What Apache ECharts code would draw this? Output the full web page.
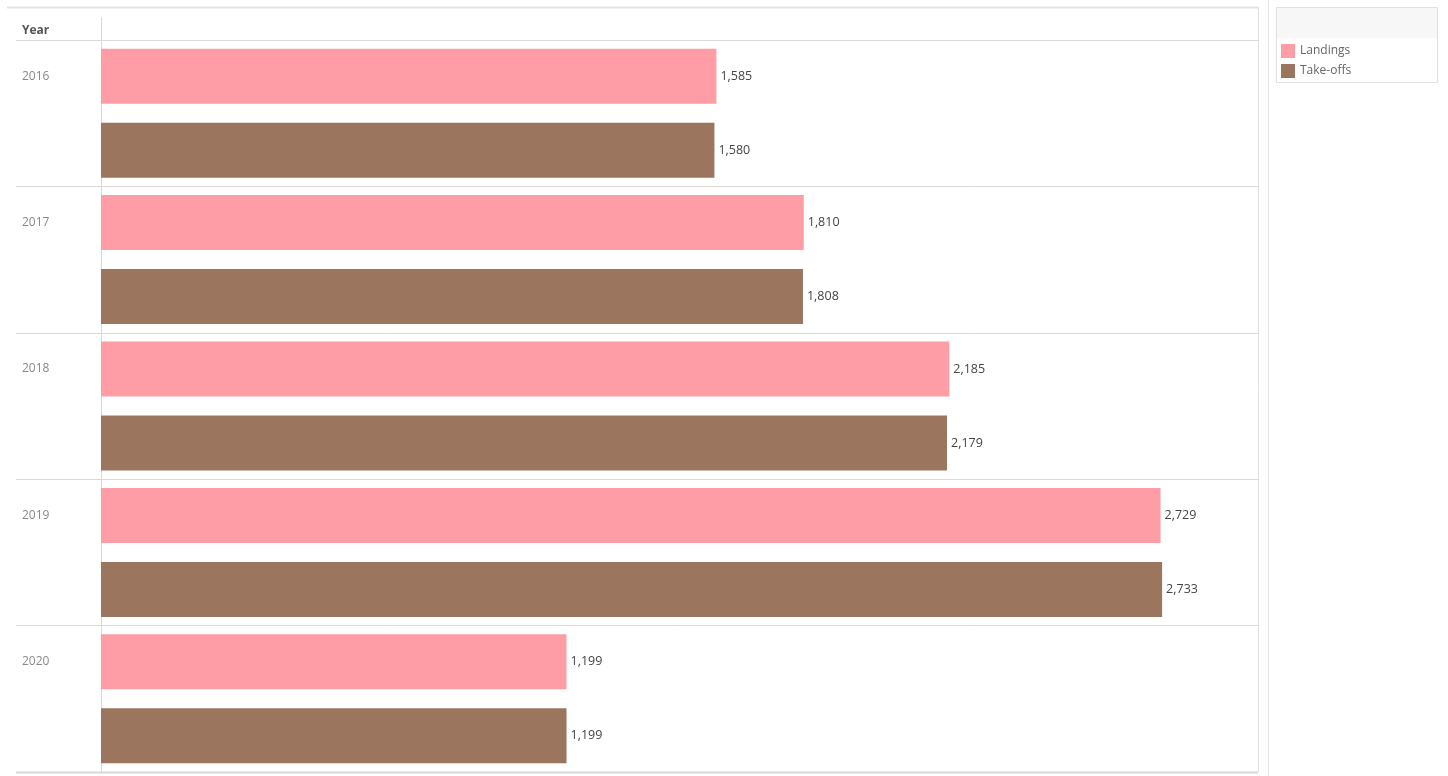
<!DOCTYPE html>
<html><head><meta charset="utf-8">
<script src="https://cdn.jsdelivr.net/npm/echarts@6/dist/echarts.min.js"></script>
<style>html,body{margin:0;padding:0;background:#fff}#c{width:1448px;height:776px}</style>
</head><body><div id="c"></div>
<script>
const years = ['2016','2017','2018','2019','2020'];
const landings = [1585, 1810, 2185, 2729, 1199];
const takeoffs = [1580, 1808, 2179, 2733, 1199];
const seriesNames = ['Landings','Take-offs'];
const colors = ['#FF9DA7','#9C755F'];
const FONT = '"Open Sans", "Noto Sans", sans-serif';
const LINE = '#d9d9d9';

const chart = echarts.init(document.getElementById('c'), null, {renderer:'canvas'});
chart.setOption({
  animation:false,
  textStyle:{fontFamily:FONT},
  grid:[
    {left:16, width:85, top:40, bottom:4},
    {left:101, width:1157, top:40, bottom:4}
  ],
  xAxis:[
    {gridIndex:0, type:'value', show:false, min:0, max:1},
    {gridIndex:1, type:'value', min:0, max:2980, show:true,
     axisLine:{show:false}, axisTick:{show:false}, axisLabel:{show:false}, splitLine:{show:false}}
  ],
  yAxis:[
    {gridIndex:0, type:'category', data:years, inverse:true,
     axisLine:{show:false}, axisTick:{show:false},
     axisLabel:{show:true, align:'left', margin:-6, color:'#888', fontSize:12, fontFamily:FONT,
       verticalAlign:'bottom', lineHeight:74},
     splitLine:{show:true, lineStyle:{color:LINE, width:1}}},
    {gridIndex:1, type:'category', data:years, inverse:true,
     axisLine:{show:true, lineStyle:{color:LINE}}, axisTick:{show:false}, axisLabel:{show:false},
     splitLine:{show:true, lineStyle:{color:LINE, width:1}}}
  ],
  legend:{
    orient:'vertical', left:1281, top:44, padding:0, itemWidth:14, itemHeight:14, itemGap:6,
    icon:'rect', data:seriesNames,
    textStyle:{color:'#666', fontSize:12, fontFamily:FONT}
  },
  graphic:[
    {type:'line', shape:{x1:7,y1:7.5,x2:1258,y2:7.5}, style:{stroke:'#e3e3e3',lineWidth:2}, silent:true},
    {type:'line', shape:{x1:101.5,y1:17,x2:101.5,y2:40}, style:{stroke:LINE,lineWidth:1}, silent:true},
    {type:'line', shape:{x1:1258.5,y1:7,x2:1258.5,y2:772}, style:{stroke:'#e0e0e0',lineWidth:1}, silent:true},
    {type:'line', shape:{x1:1268.5,y1:0,x2:1268.5,y2:776}, style:{stroke:'#e6e6e6',lineWidth:1}, silent:true},
    {type:'line', shape:{x1:16,y1:772.5,x2:1258,y2:772.5}, style:{stroke:'#d6d6d6',lineWidth:2}, silent:true},
    {type:'rect', shape:{x:1276.5,y:7.5,width:161,height:75}, style:{fill:'#fff',stroke:'#e0e0e0',lineWidth:1}, silent:true, z:-1},
    {type:'rect', shape:{x:1277,y:8,width:160,height:30}, style:{fill:'#f7f7f7'}, silent:true, z:-1},
    {type:'text', left:22, top:25, style:{text:'Year', fill:'#555', font:'bold 12px "Open Sans", sans-serif'}, silent:true}
  ],
  series:[
    {name:seriesNames[0], type:'bar', xAxisIndex:1, yAxisIndex:1, data:landings,
     itemStyle:{color:colors[0]}, barWidth:55, barGap:'34.5%',
     label:{show:true, position:'right', distance:4, color:'#444', fontSize:12.5, fontFamily:FONT,
       formatter:p=>p.value.toLocaleString('en-US')}},
    {name:seriesNames[1], type:'bar', xAxisIndex:1, yAxisIndex:1, data:takeoffs,
     itemStyle:{color:colors[1]}, barWidth:55, barGap:'34.5%',
     label:{show:true, position:'right', distance:4, color:'#444', fontSize:12.5, fontFamily:FONT,
       formatter:p=>p.value.toLocaleString('en-US')}}
  ]
});
</script></body></html>
